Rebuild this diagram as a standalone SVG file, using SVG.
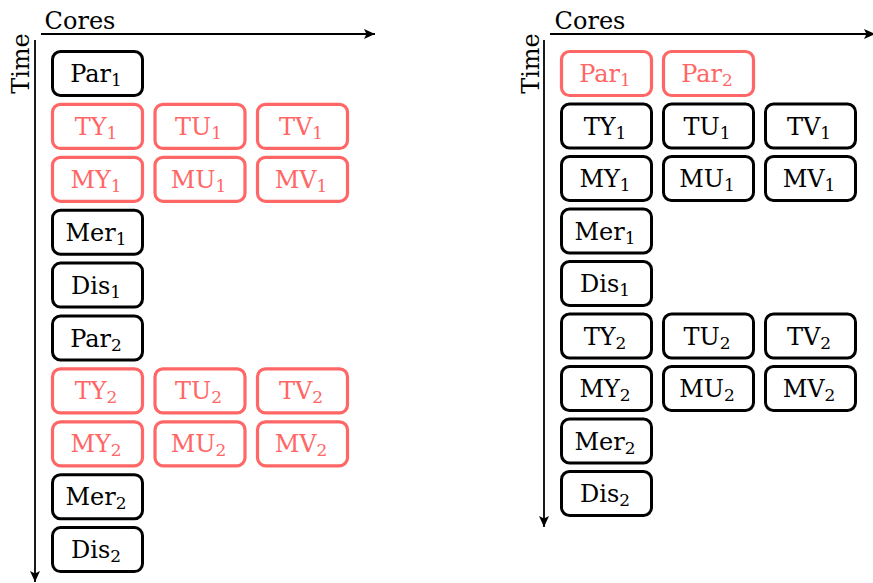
<svg xmlns="http://www.w3.org/2000/svg" width="873" height="583" viewBox="0 0 873 583" font-family="'DejaVu Serif', serif" font-size="24">
<defs>
<marker id="ah" markerUnits="userSpaceOnUse" markerWidth="12" markerHeight="10" refX="11" refY="5" orient="auto">
<path d="M0,0 L11,5 L0,10 L2.5,5 Z" fill="#000"/>
</marker>
<style>
.b{fill:#fff;stroke:#000;stroke-width:3}
.r{fill:#fff;stroke:#ff6666;stroke-width:3.2}
.t{text-anchor:middle;fill:#000}
.rt{text-anchor:middle;fill:#ff6666}
.ax{stroke:#000;stroke-width:1.8;fill:none}
</style>
</defs>
<rect width="873" height="583" fill="#fff"/>
<g id="axes">
<line class="ax" x1="41" y1="34" x2="375" y2="34" marker-end="url(#ah)"/>
<line class="ax" x1="35" y1="40" x2="35" y2="582" marker-end="url(#ah)"/>
<text x="80" y="29" class="t">Cores</text>
<text class="t" transform="translate(29,63.5) rotate(-90)">Time</text>
<line class="ax" x1="550" y1="34" x2="875" y2="34" marker-end="url(#ah)"/>
<line class="ax" x1="544" y1="40" x2="544" y2="527" marker-end="url(#ah)"/>
<text x="590" y="29" class="t">Cores</text>
<text class="t" transform="translate(539,63.5) rotate(-90)">Time</text>
</g>
<g id="left">
<g id="L-Par1"><rect class="b" x="52.5" y="51.5" width="90" height="44" rx="8"/><text class="t" x="96" y="82">Par<tspan font-size="17" dy="4">1</tspan></text></g>
<g id="L-TY1"><rect class="r" x="52.5" y="104.4" width="90" height="44" rx="8"/><text class="rt" x="96" y="134.9">TY<tspan font-size="17" dy="4">1</tspan></text></g>
<g id="L-TU1"><rect class="r" x="155" y="104.4" width="90" height="44" rx="8"/><text class="rt" x="198.5" y="134.9">TU<tspan font-size="17" dy="4">1</tspan></text></g>
<g id="L-TV1"><rect class="r" x="257.5" y="104.4" width="90" height="44" rx="8"/><text class="rt" x="301" y="134.9">TV<tspan font-size="17" dy="4">1</tspan></text></g>
<g id="L-MY1"><rect class="r" x="52.5" y="157.3" width="90" height="44" rx="8"/><text class="rt" x="96" y="187.8">MY<tspan font-size="17" dy="4">1</tspan></text></g>
<g id="L-MU1"><rect class="r" x="155" y="157.3" width="90" height="44" rx="8"/><text class="rt" x="198.5" y="187.8">MU<tspan font-size="17" dy="4">1</tspan></text></g>
<g id="L-MV1"><rect class="r" x="257.5" y="157.3" width="90" height="44" rx="8"/><text class="rt" x="301" y="187.8">MV<tspan font-size="17" dy="4">1</tspan></text></g>
<g id="L-Mer1"><rect class="b" x="52.5" y="210.2" width="90" height="44" rx="8"/><text class="t" x="96" y="240.7">Mer<tspan font-size="17" dy="4">1</tspan></text></g>
<g id="L-Dis1"><rect class="b" x="52.5" y="263.1" width="90" height="44" rx="8"/><text class="t" x="96" y="293.6">Dis<tspan font-size="17" dy="4">1</tspan></text></g>
<g id="L-Par2"><rect class="b" x="52.5" y="316" width="90" height="44" rx="8"/><text class="t" x="96" y="346.5">Par<tspan font-size="17" dy="4">2</tspan></text></g>
<g id="L-TY2"><rect class="r" x="52.5" y="368.9" width="90" height="44" rx="8"/><text class="rt" x="96" y="399.4">TY<tspan font-size="17" dy="4">2</tspan></text></g>
<g id="L-TU2"><rect class="r" x="155" y="368.9" width="90" height="44" rx="8"/><text class="rt" x="198.5" y="399.4">TU<tspan font-size="17" dy="4">2</tspan></text></g>
<g id="L-TV2"><rect class="r" x="257.5" y="368.9" width="90" height="44" rx="8"/><text class="rt" x="301" y="399.4">TV<tspan font-size="17" dy="4">2</tspan></text></g>
<g id="L-MY2"><rect class="r" x="52.5" y="421.8" width="90" height="44" rx="8"/><text class="rt" x="96" y="452.3">MY<tspan font-size="17" dy="4">2</tspan></text></g>
<g id="L-MU2"><rect class="r" x="155" y="421.8" width="90" height="44" rx="8"/><text class="rt" x="198.5" y="452.3">MU<tspan font-size="17" dy="4">2</tspan></text></g>
<g id="L-MV2"><rect class="r" x="257.5" y="421.8" width="90" height="44" rx="8"/><text class="rt" x="301" y="452.3">MV<tspan font-size="17" dy="4">2</tspan></text></g>
<g id="L-Mer2"><rect class="b" x="52.5" y="474.7" width="90" height="44" rx="8"/><text class="t" x="96" y="505.2">Mer<tspan font-size="17" dy="4">2</tspan></text></g>
<g id="L-Dis2"><rect class="b" x="52.5" y="527.6" width="90" height="44" rx="8"/><text class="t" x="96" y="558.1">Dis<tspan font-size="17" dy="4">2</tspan></text></g>
</g>
<g id="right">
<g id="R-Par1"><rect class="r" x="561.5" y="51.5" width="90" height="44" rx="8"/><text class="rt" x="605" y="82">Par<tspan font-size="17" dy="4">1</tspan></text></g>
<g id="R-Par2"><rect class="r" x="663.5" y="51.5" width="90" height="44" rx="8"/><text class="rt" x="707" y="82">Par<tspan font-size="17" dy="4">2</tspan></text></g>
<g id="R-TY1"><rect class="b" x="561.5" y="104" width="90" height="44" rx="8"/><text class="t" x="605" y="134.5">TY<tspan font-size="17" dy="4">1</tspan></text></g>
<g id="R-TU1"><rect class="b" x="663.5" y="104" width="90" height="44" rx="8"/><text class="t" x="707" y="134.5">TU<tspan font-size="17" dy="4">1</tspan></text></g>
<g id="R-TV1"><rect class="b" x="765.5" y="104" width="90" height="44" rx="8"/><text class="t" x="809" y="134.5">TV<tspan font-size="17" dy="4">1</tspan></text></g>
<g id="R-MY1"><rect class="b" x="561.5" y="156.5" width="90" height="44" rx="8"/><text class="t" x="605" y="187">MY<tspan font-size="17" dy="4">1</tspan></text></g>
<g id="R-MU1"><rect class="b" x="663.5" y="156.5" width="90" height="44" rx="8"/><text class="t" x="707" y="187">MU<tspan font-size="17" dy="4">1</tspan></text></g>
<g id="R-MV1"><rect class="b" x="765.5" y="156.5" width="90" height="44" rx="8"/><text class="t" x="809" y="187">MV<tspan font-size="17" dy="4">1</tspan></text></g>
<g id="R-Mer1"><rect class="b" x="561.5" y="209" width="90" height="44" rx="8"/><text class="t" x="605" y="239.5">Mer<tspan font-size="17" dy="4">1</tspan></text></g>
<g id="R-Dis1"><rect class="b" x="561.5" y="261.5" width="90" height="44" rx="8"/><text class="t" x="605" y="292">Dis<tspan font-size="17" dy="4">1</tspan></text></g>
<g id="R-TY2"><rect class="b" x="561.5" y="314" width="90" height="44" rx="8"/><text class="t" x="605" y="344.5">TY<tspan font-size="17" dy="4">2</tspan></text></g>
<g id="R-TU2"><rect class="b" x="663.5" y="314" width="90" height="44" rx="8"/><text class="t" x="707" y="344.5">TU<tspan font-size="17" dy="4">2</tspan></text></g>
<g id="R-TV2"><rect class="b" x="765.5" y="314" width="90" height="44" rx="8"/><text class="t" x="809" y="344.5">TV<tspan font-size="17" dy="4">2</tspan></text></g>
<g id="R-MY2"><rect class="b" x="561.5" y="366.5" width="90" height="44" rx="8"/><text class="t" x="605" y="397">MY<tspan font-size="17" dy="4">2</tspan></text></g>
<g id="R-MU2"><rect class="b" x="663.5" y="366.5" width="90" height="44" rx="8"/><text class="t" x="707" y="397">MU<tspan font-size="17" dy="4">2</tspan></text></g>
<g id="R-MV2"><rect class="b" x="765.5" y="366.5" width="90" height="44" rx="8"/><text class="t" x="809" y="397">MV<tspan font-size="17" dy="4">2</tspan></text></g>
<g id="R-Mer2"><rect class="b" x="561.5" y="419" width="90" height="44" rx="8"/><text class="t" x="605" y="449.5">Mer<tspan font-size="17" dy="4">2</tspan></text></g>
<g id="R-Dis2"><rect class="b" x="561.5" y="471.5" width="90" height="44" rx="8"/><text class="t" x="605" y="502">Dis<tspan font-size="17" dy="4">2</tspan></text></g>
</g>
</svg>
